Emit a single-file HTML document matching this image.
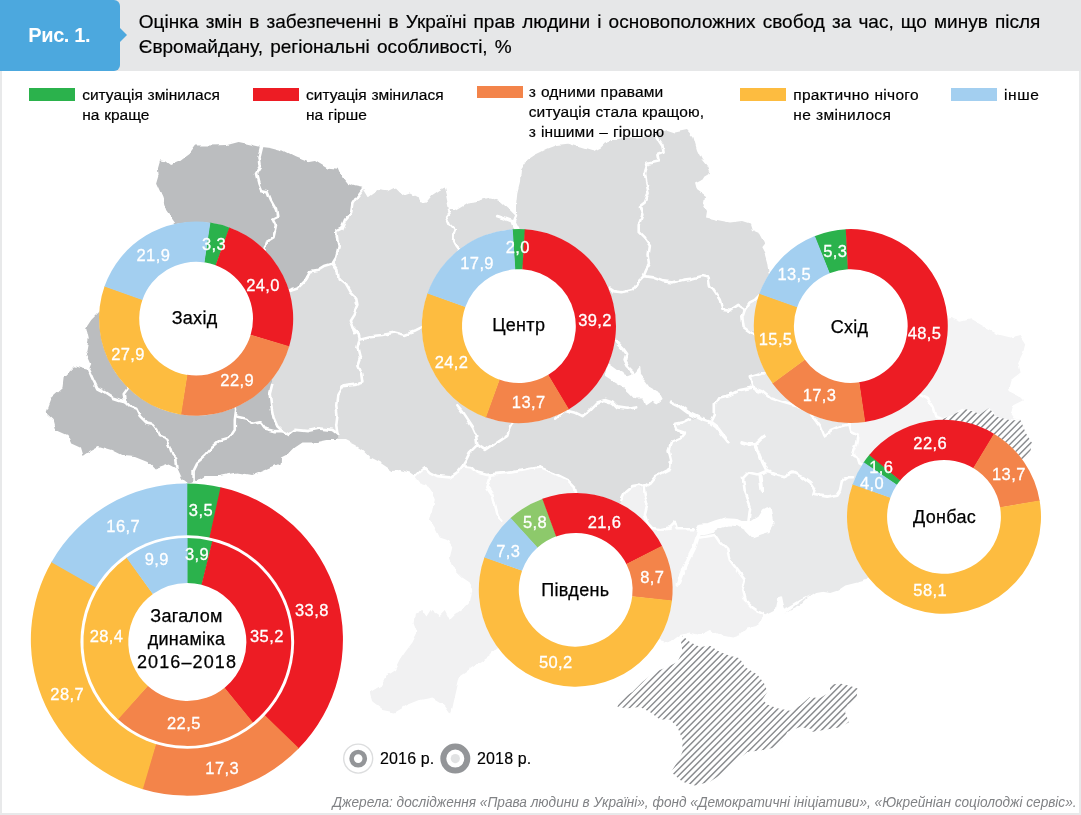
<!DOCTYPE html>
<html lang="uk"><head><meta charset="utf-8"><title>Рис. 1.</title>
<style>
html,body{margin:0;padding:0;background:#fff}
body{font-family:"Liberation Sans",sans-serif}
#page{position:relative;width:1081px;height:815px;overflow:hidden;background:#fff}
#frame{position:absolute;left:0;top:0;width:1081px;height:815px;box-sizing:border-box;border-left:2px solid #e8e9ea;border-right:2.2px solid #e8e9ea;border-bottom:2.5px solid #e8e9ea}
#hdr{position:absolute;left:0;top:0;width:1081px;height:70.5px;background:#e6e7e8}
#tag{position:absolute;left:0;top:0;width:120.3px;height:70.5px;background:#4ca8de;border-radius:0 6px 6px 0}
#tag:after{content:"";position:absolute;left:120px;top:27.5px;border-left:7.5px solid #4ca8de;border-top:7.5px solid transparent;border-bottom:7.5px solid transparent}
#tag span{position:absolute;left:28.3px;top:21.3px;font-weight:bold;font-size:20px;letter-spacing:-0.4px;line-height:28px;color:#fff;white-space:nowrap}
#title{position:absolute;left:138.8px;top:8.5px;font-size:19px;line-height:25.7px;letter-spacing:0px;word-spacing:1.9px;color:#000;-webkit-text-stroke:0.2px #000;white-space:nowrap}
.lg{position:absolute;font-size:15.5px;line-height:20px;letter-spacing:0px;word-spacing:0.5px;color:#000;-webkit-text-stroke:0.2px #000;white-space:nowrap}
.sw{position:absolute;width:46px;height:12.3px}
#foot{position:absolute;right:4.6px;top:794px;font-style:italic;font-size:15px;letter-spacing:0px;color:#808285;white-space:nowrap;line-height:16px;transform:scaleX(0.909);transform-origin:100% 50%}
svg text{font-family:"Liberation Sans",sans-serif}
svg text.n{font-size:16.5px;fill:#fff;stroke:#fff;stroke-width:0.3px;text-anchor:middle;letter-spacing:0.4px}
svg text.k{font-size:18px;fill:#000;stroke:#000;stroke-width:0.25px;text-anchor:middle;letter-spacing:0.3px}
svg text.yl{font-size:16px;fill:#000;stroke:#000;stroke-width:0.15px;letter-spacing:0.15px}
</style></head>
<body>
<div id="page">
<svg width="1081" height="815" viewBox="0 0 1081 815" style="position:absolute;left:0;top:0">
<defs>
<filter id="wig" x="0" y="0" width="1081" height="815" filterUnits="userSpaceOnUse"><feTurbulence type="fractalNoise" baseFrequency="0.09" numOctaves="2" seed="7" result="n"/><feDisplacementMap in="SourceGraphic" in2="n" scale="5" xChannelSelector="R" yChannelSelector="G"/></filter>
<clipPath id="cpD"><path d="M942.9,419.0 L965.4,409.0 L980.5,414.0 L989.2,407.7 L995.5,416.5 L1010.6,420.3 L1020.6,420.3 L1025.6,432.8 L1031.9,442.8 L1030.6,450.4 L1024.3,457.9 L950,520 L930,440Z"/></clipPath>
<clipPath id="cpC"><path d="M682.4,635.7 L689.9,642.0 L699.9,647.0 L709.9,645.7 L719.9,652.0 L729.8,655.7 L739.8,658.2 L744.8,666.9 L757.3,674.4 L764.8,684.4 L767.3,691.9 L762.3,699.4 L767.3,704.4 L777.3,708.2 L789.8,710.7 L799.8,705.7 L809.8,696.9 L819.8,698.2 L830.0,691.9 L830.1,684.7 L840.1,683.4 L850.1,686.0 L857.6,688.5 L856.4,699.7 L847.6,704.8 L845.1,712.3 L848.9,722.3 L840.1,727.3 L825.0,729.8 L810.0,732.3 L814.8,729.4 L799.8,726.9 L787.3,731.9 L782.3,741.9 L772.3,748.1 L759.8,750.6 L747.3,751.9 L734.8,761.9 L724.8,771.9 L709.9,781.8 L694.9,785.6 L682.4,781.8 L671.1,771.9 L677.4,761.9 L682.4,751.9 L682.4,739.4 L677.4,726.9 L669.9,719.4 L659.9,719.4 L649.9,711.9 L639.9,706.9 L627.4,708.2 L617.4,706.9 L619.9,699.4 L632.4,691.9 L642.4,681.9 L654.9,671.9 L667.4,666.9 L677.4,662.0 L682.4,652.0 L681.1,642.0Z"/></clipPath>
</defs>
<g id="map" filter="url(#wig)">
<path d="M414.9,476.1 L419.9,471.1 L424.9,467.4 L429.9,472.4 L437.3,476.1 L449.8,477.4 L457.3,472.4 L462.3,466.1 L472.3,467.4 L477.3,472.4 L487.3,474.9 L499.8,473.6 L512.3,472.4 L524.8,469.9 L540.0,467.4 L555.0,473.6 L567.5,479.9 L573.7,486.1 L575.0,492.3 L575,500 L600,540 L621.2,499.8 L624.9,492.3 L632.4,486.1 L639.9,484.8 L643.7,486.1 L644.9,494.8 L647.4,504.8 L644.9,514.8 L647.4,523.1 L652,528 L660,529.2 L669.3,527.4 L674.8,521.8 L676.7,529.2 L693.3,529.2 L699.9,537.5 L714.8,535.0 L719.8,542.5 L727.3,550.0 L729.8,560.0 L737.3,569.9 L744.8,579.9 L742.3,589.9 L744.8,599.9 L752.3,607.4 L759.8,612.4 L764.8,614.9 L757.3,624.9 L747.3,627.4 L739.8,634.9 L732.3,637.4 L719.8,634.9 L709.8,629.9 L699.9,634.9 L689.9,632.4 L679.9,634.9 L669.9,642.4 L657.4,639.9 L560,640 L497,647.5 L490,655 L475,665 L460,675 L453.6,702.4 L451.1,713.7 L444.9,704.9 L432.4,697.4 L419.9,699.9 L407.4,704.9 L394.9,712.4 L382.4,709.9 L372.4,702.4 L369.9,692.5 L369.9,692.3 L382.4,684.8 L387.4,674.8 L394.9,669.9 L399.9,659.9 L404.9,652.4 L412.4,642.4 L417.4,632.4 L413.6,622.4 L414.9,612.4 L422.4,609.9 L427.4,617.4 L432.3,609.9 L439.8,614.9 L444.8,609.9 L449.8,619.9 L454.8,614.9 L462.3,609.9 L469.8,602.4 L472.3,589.9 L469.8,582.4 L462.3,577.4 L454.8,569.9 L449.8,557.5 L452.3,547.5 L447.3,540.0 L439.8,537.5 L434.8,527.5 L429.9,520.0 L432.3,510.0 L432.3,509.8 L434.8,499.8 L432.3,492.3 L427.4,484.8 L419.9,482.3Z" fill="#f1f1f2"/>
<path d="M775,285 L754.8,299.8 L749.8,302.3 L744.8,309.8 L742.3,317.3 L743.6,327.3 L747.3,330 L800,330 L775,372 L762.3,372.4 L749.8,376.2 L752.3,387.4 L739.8,389.9 L729.8,394.9 L719.8,397.4 L714.8,404.9 L714.8,414.9 L712.3,419.9 L689.9,418.7 L682.4,422.4 L674.9,423.7 L677.4,429.9 L684.9,432.4 L679.9,438.6 L671.1,442.4 L668.6,449.9 L671.1,459.9 L669.9,468.6 L662.4,472.4 L654.9,476.1 L649.9,482.3 L643.7,486.1 L639.9,484.8 L644.9,494.8 L647.4,504.8 L644.9,514.8 L647.4,523.1 L652,528 L660,529.2 L669.3,527.4 L674.8,521.8 L676.7,529.2 L693.3,529.2 L699.9,537.5 L714.8,535.0 L719.8,542.5 L727.3,550.0 L729.8,560.0 L737.3,569.9 L744.8,579.9 L742.3,589.9 L744.8,599.9 L752.3,607.4 L759.8,612.4 L764.8,614.9 L774.8,609.9 L777.3,597.4 L781.0,596.2 L783.5,608.7 L787.3,607.4 L799.8,599.9 L810.0,594.9 L782.6,615.5 L790.1,610.5 L800.2,605.5 L807.7,598.0 L815.2,593.0 L822.7,591.7 L830.2,593.0 L837.8,590.5 L845.3,585.5 L855.3,583.0 L865.3,580.4 L900,540 L863.2,465.1 L859.5,463.3 L857.7,457.7 L852.1,454.0 L855.8,444.8 L857.7,435.5 L850.3,431.8 L848.4,424.4 L848.4,419.8 L850.3,415.2 L851,330 L860,280Z" fill="#e8e9ea"/>
<path d="M900,330 L950.4,318.0 L960.4,321.8 L970.4,319.3 L985.5,328.0 L995.5,333.1 L995.5,333.8 L1010.6,337.5 L1020.6,335.0 L1025.6,342.6 L1023.1,352.6 L1018.1,362.6 L1020.6,372.6 L1010.6,380.2 L1008.0,390.2 L1018.1,395.2 L1023.1,400.2 L1013.1,405.2 L1010.6,415.3 L1014.3,420.3 L1020.6,420.3 L1025.6,432.8 L1031.9,442.8 L1030.6,450.4 L1024.3,457.9 L950,520 L863.2,465.1 L859.5,463.3 L857.7,457.7 L852.1,454.0 L855.8,444.8 L857.7,435.5 L850.3,431.8 L848.4,424.4 L848.4,419.8 L850.3,415.2 L851,330Z" fill="#f3f3f4"/>
<path d="M363.7,187.9 L368.7,196.2 L377.4,189.9 L387.4,191.2 L394.9,187.4 L402.4,194.9 L409.9,192.4 L417.4,196.2 L419.9,203.7 L426.1,202.4 L432.3,194.9 L439.8,189.9 L444.8,187.4 L447.3,197.4 L449.8,209.9 L454.8,209.9 L467.3,202.4 L477.3,201.2 L489.8,197.4 L499.8,201.2 L509.8,209.9 L516.0,216.2 L516.0,204.9 L517.3,192.4 L519.8,182.5 L521.0,170.0 L527.3,160.0 L534.8,155.0 L540.0,152.5 L547.5,148.7 L557.5,145.0 L567.5,143.7 L580.0,147.5 L592.5,151.2 L599.9,147.5 L604.9,142.5 L612.4,140.0 L624.9,137.5 L639.9,137.5 L652.4,135.0 L659.9,132.5 L667.4,130.0 L675,132.5 L687,130 L693.5,137.5 L697,150 L702,160 L707,166 L710,173.7 L700,180 L695,182.4 L697,190 L705,196 L703.5,205 L707,211 L706,217.4 L717,220 L730,222.4 L742,221 L750,223.6 L752,230 L760,233.6 L765,242.4 L761,247.4 L765,255 L767,262 L768.5,272 L775,285 L754.8,299.8 L749.8,302.3 L744.8,309.8 L742.3,317.3 L743.6,327.3 L747.3,330 L800,330 L775,372 L762.3,372.4 L749.8,376.2 L752.3,387.4 L739.8,389.9 L729.8,394.9 L719.8,397.4 L714.8,404.9 L714.8,414.9 L712.3,419.9 L689.9,418.7 L682.4,422.4 L674.9,423.7 L677.4,429.9 L684.9,432.4 L679.9,438.6 L671.1,442.4 L668.6,449.9 L671.1,459.9 L669.9,468.6 L662.4,472.4 L654.9,476.1 L649.9,482.3 L643.7,486.1 L639.9,484.8 L632.4,486.1 L624.9,492.3 L621.2,499.8 L600,540 L575,500 L575.0,492.3 L573.7,486.1 L567.5,479.9 L555.0,473.6 L540.0,467.4 L524.8,469.9 L512.3,472.4 L499.8,473.6 L487.3,474.9 L477.3,472.4 L472.3,467.4 L462.3,466.1 L457.3,472.4 L449.8,477.4 L437.3,476.1 L429.9,472.4 L424.9,467.4 L419.9,471.1 L414.9,476.1 L409.9,472.4 L399.9,469.9 L392.4,471.1 L387.4,467.4 L379.9,462.4 L369.9,457.4 L362.4,449.9 L354.9,444.9 L344.9,439.9 L337.4,439.9 L337.4,433.6 L332.4,429.9 L320.0,428.6 L307.5,431.1 L295.0,429.9 L290.0,433.6 L289.8,434.9 L282.3,431.1 L277.3,426.2 L273.5,417.4 L271.0,404.9 L269.8,394.9 L272.3,384.9 L290.0,289.9 L297.5,287.4 L305.0,279.9 L310.0,271.1 L317.5,269.9 L323.7,266.1 L332.4,263.6 L332.4,263.6 L336.2,257.4 L338.7,247.4 L337.4,239.9 L336.2,231.2 L341.2,228.7 L344.9,219.9 L351.2,212.4 L352.4,203.7 L357.4,196.2Z" fill="#dcddde"/>
<path d="M179.9,229.9 L166.1,209.9 L162.4,197.4 L156.1,183.7 L158.6,175.0 L157.9,167.5 L159.9,160.5 L166.1,161.2 L171.1,165.0 L179.9,161.2 L189.9,153.7 L196.1,145.5 L209.8,145.5 L227.3,145.0 L238.6,142.0 L247.3,143.7 L261.0,147.0 L269.8,148.0 L282.3,151.2 L282.5,150.0 L295.0,156.2 L307.5,161.2 L315.0,160.0 L327.4,167.5 L338.7,168.7 L342.4,177.5 L347.4,183.7 L354.9,186.2 L363.7,187.9 L357.4,196.2 L352.4,203.7 L351.2,212.4 L344.9,219.9 L341.2,228.7 L336.2,231.2 L337.4,239.9 L338.7,247.4 L336.2,257.4 L332.4,263.6 L323.7,266.1 L317.5,269.9 L310.0,271.1 L305.0,279.9 L297.5,287.4 L290.0,289.9 L272.3,384.9 L269.8,394.9 L271.0,404.9 L273.5,417.4 L277.3,426.2 L282.3,431.1 L289.8,434.9 L290.0,433.6 L295.0,429.9 L307.5,431.1 L320.0,428.6 L332.4,429.9 L337.4,433.6 L337.4,439.9 L327.4,439.9 L315.0,442.4 L302.5,442.4 L295.0,447.4 L290.0,452.4 L280.0,457.4 L279.8,463.6 L264.8,469.9 L252.3,474.9 L237.3,472.4 L219.8,476.1 L204.8,476.1 L194.8,482.3 L187.4,483.6 L181.1,478.6 L176.1,467.4 L168.6,463.6 L154.9,468.6 L147.4,461.1 L134.9,456.1 L122.4,454.9 L112.4,449.9 L98.7,446.1 L91.2,449.9 L82.5,456.1 L80.0,447.4 L71.2,443.6 L67.5,434.9 L56.2,429.9 L53.7,419.9 L45.5,412.4 L51.2,397.4 L62.5,387.4 L63.7,377.4 L75.0,366.2 L83.7,368.7 L88.7,370.0 L91.2,363.7 L86.2,352.5 L88.7,338.7 L86.2,327.5 L91.2,320.0Z" fill="#bbbdbf"/>
<path d="M942.9,419.0 L965.4,409.0 L980.5,414.0 L989.2,407.7 L995.5,416.5 L1010.6,420.3 L1020.6,420.3 L1025.6,432.8 L1031.9,442.8 L1030.6,450.4 L1024.3,457.9 L950,520 L930,440Z" fill="#fff"/>
<path d="M489.8,474.9 L489.8,479.9 L487.3,487.3 L492.3,494.8 L494.8,504.8 L497.3,514.8 L502.3,519.8" fill="none" stroke="#fff" stroke-width="2.6" stroke-linejoin="round" stroke-linecap="round"/>
<path d="M643.7,486.1 L644.9,494.8 L647.4,504.8 L644.9,514.8 L647.4,523.1" fill="none" stroke="#fff" stroke-width="2.6" stroke-linejoin="round" stroke-linecap="round"/>
<path d="M699.9,537.5 L714.8,535.0 L719.8,542.5 L727.3,550.0 L729.8,560.0 L737.3,569.9 L744.8,579.9 L742.3,589.9 L744.8,599.9 L752.3,607.4 L759.8,612.4 L764.8,614.9" fill="none" stroke="#fff" stroke-width="2.6" stroke-linejoin="round" stroke-linecap="round"/>
<path d="M647.4,523 L652,528 L660,529.2 L669.3,527.4 L674.8,521.8 L676.7,529.2 L693.3,529.2" fill="none" stroke="#fff" stroke-width="2.6" stroke-linejoin="round" stroke-linecap="round"/>
<path d="M752.3,387.4 L759.8,392.4 L752.2,387.4 L761.5,391.1 L770.7,398.5 L781.8,402.2 L794.8,405.9 L809.6,411.5 L815.1,418.9 L820.7,426.3 L824.4,435.5 L831.8,430.0 L841.0,426.3 L848.4,424.4 L850.3,431.8 L857.7,435.5 L855.8,444.8 L852.1,454.0 L857.7,457.7 L859.5,463.3 L863.2,465.1" fill="none" stroke="#fff" stroke-width="2.6" stroke-linejoin="round" stroke-linecap="round"/>
<path d="M848.4,424.4 L848.4,419.8 L850.3,415.2" fill="none" stroke="#fff" stroke-width="2.6" stroke-linejoin="round" stroke-linecap="round"/>
<path d="M743.0,478.1 L748.5,472.5 L757.8,474.4 L767.0,470.7 L776.3,474.4 L785.5,476.2 L792.9,472.5 L804.0,478.1 L811.4,483.6 L815.1,489.2 L813.3,494.7 L826.2,496.6 L837.3,494.7 L841.0,489.2 L842.9,479.9 L848.4,476.2 L853.0,476.2" fill="none" stroke="#fff" stroke-width="2.6" stroke-linejoin="round" stroke-linecap="round"/>
<path d="M743.0,478.1 L744.8,491.0 L750.4,505.8 L748.5,520.6 L750.4,530.0" fill="none" stroke="#fff" stroke-width="2.6" stroke-linejoin="round" stroke-linecap="round"/>
<path d="M920.3,395.2 L927.8,399.0 L932.8,407.7 L935.3,416.5 L942.9,419.0" fill="none" stroke="#fff" stroke-width="2.6" stroke-linejoin="round" stroke-linecap="round"/>
<path d="M363.7,187.9 L357.4,196.2 L352.4,203.7 L351.2,212.4 L344.9,219.9 L341.2,228.7 L336.2,231.2 L337.4,239.9 L338.7,247.4 L336.2,257.4 L332.4,263.6" fill="none" stroke="#fff" stroke-width="2.6" stroke-linejoin="round" stroke-linecap="round"/>
<path d="M332.4,263.6 L323.7,266.1 L317.5,269.9 L310.0,271.1 L305.0,279.9 L297.5,287.4 L290.0,289.9" fill="none" stroke="#fff" stroke-width="2.6" stroke-linejoin="round" stroke-linecap="round"/>
<path d="M272.3,384.9 L269.8,394.9 L271.0,404.9 L273.5,417.4 L277.3,426.2 L282.3,431.1 L289.8,434.9" fill="none" stroke="#fff" stroke-width="2.6" stroke-linejoin="round" stroke-linecap="round"/>
<path d="M290.0,433.6 L295.0,429.9 L307.5,431.1 L320.0,428.6 L332.4,429.9 L337.4,433.6" fill="none" stroke="#fff" stroke-width="2.6" stroke-linejoin="round" stroke-linecap="round"/>
<path d="M332.4,263.6 L337.4,269.9 L338.7,278.6 L344.9,283.6 L349.9,292.3 L356.2,298.6 L357.4,304.8 L353.7,313.6 L349.9,319.8 L352.4,327.3 L354.9,333.1 L352.4,327.5 L358.7,333.7 L359.9,338.7" fill="none" stroke="#fff" stroke-width="2.6" stroke-linejoin="round" stroke-linecap="round"/>
<path d="M359.9,338.7 L357.4,347.5 L359.9,357.5 L357.4,365.0 L361.2,373.7 L362.4,382.4 L354.9,384.9 L342.4,386.2 L337.4,394.9 L336.2,404.9 L337.4,414.9 L336.2,424.9 L337.4,433.6" fill="none" stroke="#fff" stroke-width="2.6" stroke-linejoin="round" stroke-linecap="round"/>
<path d="M359.9,338.7 L369.9,336.2 L382.4,335.0 L394.9,332.5 L404.9,335.0 L414.9,331.2 L422.4,327.5 L426.1,322.5" fill="none" stroke="#fff" stroke-width="2.6" stroke-linejoin="round" stroke-linecap="round"/>
<path d="M449.8,211.2 L446.1,216.2 L449.8,224.9 L454.8,229.9 L452.3,237.4 L456.1,244.9 L459.8,249.9" fill="none" stroke="#fff" stroke-width="2.6" stroke-linejoin="round" stroke-linecap="round"/>
<path d="M516.0,216.2 L513.5,222.4 L517.3,229.9" fill="none" stroke="#fff" stroke-width="2.6" stroke-linejoin="round" stroke-linecap="round"/>
<path d="M657.4,137.5 L662.4,145.0 L663.6,152.5 L657.4,155.0 L658.6,161.2 L647.4,163.7 L644.9,172.5 L646.2,182.5 L648.6,192.4 L644.9,202.4 L639.9,206.2 L642.4,214.9 L638.7,224.9 L638.7,231.2 L644.9,237.4 L649.9,244.9 L648.6,253.6 L649.9,263.6 L646.2,269.9 L643.7,276.1" fill="none" stroke="#fff" stroke-width="2.6" stroke-linejoin="round" stroke-linecap="round"/>
<path d="M643.7,276.1 L637.4,282.4 L632.4,289.9 L622.4,292.3 L613.7,291.1 L609.9,288.6" fill="none" stroke="#fff" stroke-width="2.6" stroke-linejoin="round" stroke-linecap="round"/>
<path d="M643.7,276.1 L652.4,277.4 L662.4,281.1 L672.4,282.4 L682.4,279.9 L692.4,278.6 L702.3,276.1 L708.6,277.4 L709.8,284.9 L714.8,292.3 L719.8,299.8 L722.3,308.6 L729.8,309.8 L737.3,304.8 L744.8,309.8" fill="none" stroke="#fff" stroke-width="2.6" stroke-linejoin="round" stroke-linecap="round"/>
<path d="M744.8,309.8 L749.8,302.3 L754.8,299.8 L759.8,294.8" fill="none" stroke="#fff" stroke-width="2.6" stroke-linejoin="round" stroke-linecap="round"/>
<path d="M744.8,309.8 L742.3,317.3 L743.6,327.3 L747.3,330.0 L754.8,335.0" fill="none" stroke="#fff" stroke-width="2.6" stroke-linejoin="round" stroke-linecap="round"/>
<path d="M775,372 L762.3,372.4 L749.8,376.2 L752.3,387.4" fill="none" stroke="#fff" stroke-width="2.6" stroke-linejoin="round" stroke-linecap="round"/>
<path d="M752.3,387.4 L739.8,389.9 L729.8,394.9 L719.8,397.4 L714.8,404.9 L714.8,414.9 L712.3,419.9" fill="none" stroke="#fff" stroke-width="2.6" stroke-linejoin="round" stroke-linecap="round"/>
<path d="M457.3,406.2 L462.3,412.4 L467.3,419.9 L472.3,427.4 L476.1,436.1 L477.3,444.9" fill="none" stroke="#fff" stroke-width="2.6" stroke-linejoin="round" stroke-linecap="round"/>
<path d="M477.3,444.9 L469.8,452.4 L466.1,459.9 L462.3,466.1" fill="none" stroke="#fff" stroke-width="2.6" stroke-linejoin="round" stroke-linecap="round"/>
<path d="M477.3,444.9 L484.8,449.9 L492.3,444.9 L499.8,439.9 L507.3,434.9 L509.8,427.4 L513.5,422.4" fill="none" stroke="#fff" stroke-width="2.6" stroke-linejoin="round" stroke-linecap="round"/>
<path d="M555.0,418.7 L565.0,409.9 L575.0,412.4 L582.5,416.2 L590.0,409.9 L597.4,402.4 L604.9,399.9 L612.4,402.4 L617.4,407.4 L627.4,408.7 L636.2,407.4" fill="none" stroke="#fff" stroke-width="2.6" stroke-linejoin="round" stroke-linecap="round"/>
<path d="M689.9,418.7 L682.4,422.4 L674.9,423.7 L677.4,429.9 L684.9,432.4 L679.9,438.6 L671.1,442.4 L668.6,449.9 L671.1,459.9 L669.9,468.6 L662.4,472.4 L654.9,476.1 L649.9,482.3 L643.7,486.1 L639.9,484.8" fill="none" stroke="#fff" stroke-width="2.6" stroke-linejoin="round" stroke-linecap="round"/>
<path d="M639.9,484.8 L632.4,486.1 L624.9,492.3 L621.2,499.8" fill="none" stroke="#fff" stroke-width="2.6" stroke-linejoin="round" stroke-linecap="round"/>
<path d="M575.0,492.3 L573.7,486.1 L567.5,479.9 L555.0,473.6 L540.0,467.4 L524.8,469.9 L512.3,472.4 L499.8,473.6 L487.3,474.9 L477.3,472.4 L472.3,467.4 L462.3,466.1" fill="none" stroke="#fff" stroke-width="2.6" stroke-linejoin="round" stroke-linecap="round"/>
<path d="M462.3,466.1 L457.3,472.4 L449.8,477.4 L437.3,476.1 L429.9,472.4 L424.9,467.4 L419.9,471.1 L414.9,476.1" fill="none" stroke="#fff" stroke-width="2.6" stroke-linejoin="round" stroke-linecap="round"/>
<path d="M261.0,147.0 L258.5,157.5 L259.8,167.5 L256.0,173.7 L258.5,183.7 L261.0,189.9 L267.3,191.2 L271.0,199.9 L276.0,208.7 L277.3,216.2 L272.3,218.7 L276.0,226.2 L273.5,237.4 L267.3,241.1 L264.8,248.6 L262.3,259.9" fill="none" stroke="#fff" stroke-width="2.6" stroke-linejoin="round" stroke-linecap="round"/>
<path d="M88.7,370.0 L93.7,381.2 L97.4,388.7 L104.9,392.4 L112.4,397.4 L119.9,399.9 L124.9,401.2 L129.9,406.2 L136.2,408.7 L139.9,416.2 L146.1,422.4 L152.4,423.7 L157.4,429.9 L159.9,436.1 L166.1,438.6 L169.9,447.4 L172.4,454.9 L176.1,458.6 L177.4,467.4" fill="none" stroke="#fff" stroke-width="2.6" stroke-linejoin="round" stroke-linecap="round"/>
<path d="M124.9,401.2 L123.7,394.9 L127.4,389.9 L129.9,382.4" fill="none" stroke="#fff" stroke-width="2.6" stroke-linejoin="round" stroke-linecap="round"/>
<path d="M193.6,482.3 L193.6,469.9 L197.3,462.4 L204.8,456.1 L212.3,447.4 L221.1,439.9 L229.8,437.4 L234.8,429.9 L234.8,419.9 L236.1,409.9 L234.8,402.4" fill="none" stroke="#fff" stroke-width="2.6" stroke-linejoin="round" stroke-linecap="round"/>
<path d="M236.1,416.2 L247.3,418.7 L252.3,423.7 L259.8,422.4 L264.8,428.6 L274.8,431.1 L282.3,431.1" fill="none" stroke="#fff" stroke-width="2.6" stroke-linejoin="round" stroke-linecap="round"/>
<path d="M615.9,341.1 L622.9,348.5 L627.0,354.1 L624.8,360.5 L627.9,367.0 L634.4,373.5" fill="none" stroke="#fff" stroke-width="3" stroke-linejoin="round" stroke-linecap="round"/><path d="M671.4,402.2 L679.7,406.2 L687.1,411.8 L694.5,415.5 L701.9,419.2 L709.3,421.6 L716.7,427.1 L723.2,435.5 L727.3,440.6" fill="none" stroke="#fff" stroke-width="3.6" stroke-linejoin="round" stroke-linecap="round"/><path d="M497.4,216.2 L504.9,218.7 L511.9,221.2 L514.4,227.9" fill="none" stroke="#fff" stroke-width="3" stroke-linejoin="round" stroke-linecap="round"/><path d="M742.0,442.9 L748.5,444.8 L755.9,444.8 L759.6,454.0 L763.3,463.3 L767.0,470.7" fill="none" stroke="#fff" stroke-width="3.6" stroke-linejoin="round" stroke-linecap="round"/><path d="M755.9,444.8 L761.5,439.2 L765.2,437.0" fill="none" stroke="#fff" stroke-width="3.6" stroke-linejoin="round" stroke-linecap="round"/><path d="M759.6,476.2 L760.5,483.6 L761.5,491.0" fill="none" stroke="#fff" stroke-width="4" stroke-linejoin="round" stroke-linecap="round"/><path d="M698.9,532.9 L694.2,547.7 L686.8,562.5 L681.3,575.5 L677.6,584.7" fill="none" stroke="#fff" stroke-width="4.2" stroke-linejoin="round" stroke-linecap="round"/>
<path d="M607.6,364.2 L617.8,371.6 L627.9,376.3 L635.3,373.5 L639.6,367.9 L640.3,375.3 L645.5,381.8 L651.1,389.2 L658.8,393.3 L661.8,398.8 L657.5,402.5 L652.0,399.9 L645.5,404.4 L643.3,398.8 L636.3,398.8 L629.8,392.0 L622.4,385.5 L613.1,380.0 L605.7,375.3Z" fill="#fff" stroke="#fff" stroke-width="1.5" stroke-linejoin="round"/>
<path d="M771.0,509.8 L773.8,523.7 L769.2,531.1 L759.9,533.8 L752.5,536.6 L747.0,531.1 L737.7,525.5 L730.3,524.6 L721.1,527.4 L713.7,532.0 L706.3,533.8 L699.8,534.8 L696.1,531.1 L699.8,524.6 L708.1,523.7 L715.5,520.9 L724.8,518.1 L734.0,518.5 L741.4,521.8 L750.7,521.8 L758.1,517.2 L762.7,509.8 L766.4,507.9Z" fill="#fff" stroke="#fff" stroke-width="1.5" stroke-linejoin="round"/>
</g>
<g id="hatch">
<path clip-path="url(#cpD)" d="M930.0,407.2L1031.9,305.3M930.0,413.7L1031.9,311.8M930.0,420.2L1031.9,318.3M930.0,426.7L1031.9,324.8M930.0,433.2L1031.9,331.3M930.0,439.7L1031.9,337.8M930.0,446.2L1031.9,344.3M930.0,452.7L1031.9,350.8M930.0,459.2L1031.9,357.3M930.0,465.7L1031.9,363.8M930.0,472.2L1031.9,370.3M930.0,478.7L1031.9,376.8M930.0,485.2L1031.9,383.3M930.0,491.7L1031.9,389.8M930.0,498.2L1031.9,396.3M930.0,504.7L1031.9,402.8M930.0,511.2L1031.9,409.3M930.0,517.7L1031.9,415.8M930.0,524.2L1031.9,422.3M930.0,530.7L1031.9,428.8M930.0,537.2L1031.9,435.3M930.0,543.7L1031.9,441.8M930.0,550.2L1031.9,448.3M930.0,556.7L1031.9,454.8M930.0,563.2L1031.9,461.3M930.0,569.7L1031.9,467.8M930.0,576.2L1031.9,474.3M930.0,582.7L1031.9,480.8M930.0,589.2L1031.9,487.3M930.0,595.7L1031.9,493.8M930.0,602.2L1031.9,500.3M930.0,608.7L1031.9,506.8M930.0,615.2L1031.9,513.3M930.0,621.7L1031.9,519.8M930.0,628.2L1031.9,526.3" stroke="#8b8d90" stroke-width="1.5" fill="none"/>
<path clip-path="url(#cpC)" d="M617.4,635.3L857.6,395.1M617.4,641.8L857.6,401.6M617.4,648.3L857.6,408.1M617.4,654.8L857.6,414.6M617.4,661.3L857.6,421.1M617.4,667.8L857.6,427.6M617.4,674.3L857.6,434.1M617.4,680.8L857.6,440.6M617.4,687.3L857.6,447.1M617.4,693.8L857.6,453.6M617.4,700.3L857.6,460.1M617.4,706.8L857.6,466.6M617.4,713.3L857.6,473.1M617.4,719.8L857.6,479.6M617.4,726.3L857.6,486.1M617.4,732.8L857.6,492.6M617.4,739.3L857.6,499.1M617.4,745.8L857.6,505.6M617.4,752.3L857.6,512.1M617.4,758.8L857.6,518.6M617.4,765.3L857.6,525.1M617.4,771.8L857.6,531.6M617.4,778.3L857.6,538.1M617.4,784.8L857.6,544.6M617.4,791.3L857.6,551.1M617.4,797.8L857.6,557.6M617.4,804.3L857.6,564.1M617.4,810.8L857.6,570.6M617.4,817.3L857.6,577.1M617.4,823.8L857.6,583.6M617.4,830.3L857.6,590.1M617.4,836.8L857.6,596.6M617.4,843.3L857.6,603.1M617.4,849.8L857.6,609.6M617.4,856.3L857.6,616.1M617.4,862.8L857.6,622.6M617.4,869.3L857.6,629.1M617.4,875.8L857.6,635.6M617.4,882.3L857.6,642.1M617.4,888.8L857.6,648.6M617.4,895.3L857.6,655.1M617.4,901.8L857.6,661.6M617.4,908.3L857.6,668.1M617.4,914.8L857.6,674.6M617.4,921.3L857.6,681.1M617.4,927.8L857.6,687.6M617.4,934.3L857.6,694.1M617.4,940.8L857.6,700.6M617.4,947.3L857.6,707.1M617.4,953.8L857.6,713.6M617.4,960.3L857.6,720.1M617.4,966.8L857.6,726.6M617.4,973.3L857.6,733.1M617.4,979.8L857.6,739.6M617.4,986.3L857.6,746.1M617.4,992.8L857.6,752.6M617.4,999.3L857.6,759.1M617.4,1005.8L857.6,765.6M617.4,1012.3L857.6,772.1M617.4,1018.8L857.6,778.6M617.4,1025.3L857.6,785.1M617.4,1031.8L857.6,791.6" stroke="#8b8d90" stroke-width="1.5" fill="none"/>
</g>
<g id="donuts">
<circle cx="196.1" cy="318.7" r="96.8" fill="#fff"/>
<path d="M209.87,222.58 A97.1,97.1 0 0 1 229.84,227.65 L215.87,265.34 A56.9,56.9 0 0 0 204.17,262.37Z" fill="#2bb24c"/>
<path d="M229.36,227.47 A97.1,97.1 0 0 1 289.09,346.65 L250.59,335.08 A56.9,56.9 0 0 0 215.59,265.24Z" fill="#ed1c24"/>
<path d="M289.24,346.16 A97.1,97.1 0 0 1 180.63,414.56 L187.03,374.87 A56.9,56.9 0 0 0 250.68,334.79Z" fill="#f3844a"/>
<path d="M181.13,414.64 A97.1,97.1 0 0 1 104.63,286.11 L142.50,299.60 A56.9,56.9 0 0 0 187.33,374.92Z" fill="#fdbc40"/>
<path d="M104.46,286.59 A97.1,97.1 0 0 1 210.37,222.65 L204.46,262.42 A56.9,56.9 0 0 0 142.40,299.88Z" fill="#a3cff0"/>
<circle cx="518.9" cy="326.1" r="96.8" fill="#fff"/>
<path d="M512.21,229.23 A97.1,97.1 0 0 1 525.29,229.21 L522.64,269.32 A56.9,56.9 0 0 0 514.98,269.34Z" fill="#2bb24c"/>
<path d="M524.78,229.18 A97.1,97.1 0 0 1 568.54,409.55 L547.99,375.00 A56.9,56.9 0 0 0 522.35,269.30Z" fill="#ed1c24"/>
<path d="M568.97,409.29 A97.1,97.1 0 0 1 485.53,417.28 L499.34,379.53 A56.9,56.9 0 0 0 548.24,374.85Z" fill="#f3844a"/>
<path d="M486.00,417.46 A97.1,97.1 0 0 1 427.61,293.02 L465.40,306.72 A56.9,56.9 0 0 0 499.62,379.64Z" fill="#fdbc40"/>
<path d="M427.44,293.50 A97.1,97.1 0 0 1 512.72,229.20 L515.28,269.32 A56.9,56.9 0 0 0 465.30,307.00Z" fill="#a3cff0"/>
<circle cx="850.8" cy="326.05" r="96.7" fill="#fff"/>
<path d="M814.38,236.14 A97.0,97.0 0 0 1 846.25,229.16 L848.13,269.21 A56.9,56.9 0 0 0 829.44,273.31Z" fill="#2bb24c"/>
<path d="M845.74,229.18 A97.0,97.0 0 0 1 864.74,422.04 L858.98,382.36 A56.9,56.9 0 0 0 847.83,269.23Z" fill="#ed1c24"/>
<path d="M865.24,421.97 A97.0,97.0 0 0 1 772.37,383.13 L804.79,359.53 A56.9,56.9 0 0 0 859.27,382.32Z" fill="#f3844a"/>
<path d="M772.67,383.54 A97.0,97.0 0 0 1 759.48,293.35 L797.23,306.87 A56.9,56.9 0 0 0 804.97,359.77Z" fill="#fdbc40"/>
<path d="M759.31,293.83 A97.0,97.0 0 0 1 814.86,235.96 L829.72,273.20 A56.9,56.9 0 0 0 797.13,307.15Z" fill="#a3cff0"/>
<circle cx="944.0" cy="516.8" r="96.7" fill="#fff"/>
<path d="M863.44,462.77 A97.0,97.0 0 0 1 869.60,454.57 L900.35,480.29 A56.9,56.9 0 0 0 896.74,485.11Z" fill="#2bb24c"/>
<path d="M869.27,454.96 A97.0,97.0 0 0 1 994.35,433.89 L973.54,468.17 A56.9,56.9 0 0 0 900.16,480.52Z" fill="#ed1c24"/>
<path d="M993.92,433.63 A97.0,97.0 0 0 1 1039.69,500.94 L1000.13,507.50 A56.9,56.9 0 0 0 973.28,468.01Z" fill="#f3844a"/>
<path d="M1039.61,500.44 A97.0,97.0 0 1 1 852.71,484.02 L890.45,497.57 A56.9,56.9 0 1 0 1000.08,507.20Z" fill="#fdbc40"/>
<path d="M852.54,484.50 A97.0,97.0 0 0 1 863.73,462.35 L896.91,484.86 A56.9,56.9 0 0 0 890.35,497.85Z" fill="#a3cff0"/>
<circle cx="575.7" cy="589.8" r="96.60000000000001" fill="#fff"/>
<path d="M510.30,518.30 A96.9,96.9 0 0 1 542.81,498.65 L556.39,536.28 A56.9,56.9 0 0 0 537.30,547.82Z" fill="#8dc96b"/>
<path d="M542.33,498.83 A96.9,96.9 0 0 1 662.22,546.16 L626.50,564.18 A56.9,56.9 0 0 0 556.11,536.38Z" fill="#ed1c24"/>
<path d="M661.99,545.71 A96.9,96.9 0 0 1 671.94,601.10 L632.21,596.43 A56.9,56.9 0 0 0 626.37,563.91Z" fill="#f3844a"/>
<path d="M672.00,600.59 A96.9,96.9 0 1 1 484.51,557.02 L522.15,570.55 A56.9,56.9 0 1 0 632.25,596.14Z" fill="#fdbc40"/>
<path d="M484.34,557.50 A96.9,96.9 0 0 1 510.67,517.96 L537.52,547.61 A56.9,56.9 0 0 0 522.05,570.83Z" fill="#a3cff0"/>
<circle cx="186.9" cy="639.6" r="155.75" fill="#fff"/>
<path d="M186.49,483.55 A156.05,156.05 0 0 1 221.34,487.40 L208.97,542.07 A100,100 0 0 0 186.64,539.60Z" fill="#2bb24c"/>
<path d="M220.54,487.22 A156.05,156.05 0 0 1 298.34,748.84 L258.31,709.60 A100,100 0 0 0 208.46,541.95Z" fill="#ed1c24"/>
<path d="M298.91,748.26 A156.05,156.05 0 0 1 142.03,789.06 L158.15,735.38 A100,100 0 0 0 258.68,709.23Z" fill="#f3844a"/>
<path d="M142.81,789.29 A156.05,156.05 0 0 1 51.80,561.50 L100.32,589.55 A100,100 0 0 0 158.65,735.53Z" fill="#fdbc40"/>
<path d="M51.39,562.21 A156.05,156.05 0 0 1 187.31,483.55 L187.16,539.60 A100,100 0 0 0 100.06,590.01Z" fill="#a3cff0"/>
<circle cx="187.3" cy="642.0" r="106.85" fill="#fff"/>
<circle cx="187.3" cy="642.0" r="103.60000000000001" fill="#fff"/>
<path d="M187.03,538.10 A103.9,103.9 0 0 1 212.79,541.28 L201.79,584.76 A59.05,59.05 0 0 0 187.15,582.95Z" fill="#2bb24c"/>
<path d="M212.27,541.14 A103.9,103.9 0 0 1 252.61,722.80 L224.42,687.92 A59.05,59.05 0 0 0 201.49,584.68Z" fill="#ed1c24"/>
<path d="M253.04,722.46 A103.9,103.9 0 0 1 117.60,719.05 L147.69,685.79 A59.05,59.05 0 0 0 224.66,687.73Z" fill="#f3844a"/>
<path d="M118.00,719.42 A103.9,103.9 0 0 1 126.93,557.44 L152.99,593.94 A59.05,59.05 0 0 0 147.92,686.00Z" fill="#fdbc40"/>
<path d="M126.49,557.76 A103.9,103.9 0 0 1 187.57,538.10 L187.45,582.95 A59.05,59.05 0 0 0 152.74,594.12Z" fill="#a3cff0"/>
</g>
<g id="labels">
<text x="214" y="250.2" class="n">3,3</text>
<text x="263" y="291" class="n">24,0</text>
<text x="237.2" y="385.5" class="n">22,9</text>
<text x="128" y="359.8" class="n">27,9</text>
<text x="153.4" y="261.4" class="n">21,9</text>
<text x="194.6" y="324" class="k">Захід</text>
<text x="517.8" y="252.6" class="n">2,0</text>
<text x="595" y="325.6" class="n">39,2</text>
<text x="528.7" y="408.1" class="n">13,7</text>
<text x="451.5" y="367.5" class="n">24,2</text>
<text x="477.1" y="268.8" class="n">17,9</text>
<text x="518.7" y="331.3" class="k">Центр</text>
<text x="835.3" y="257.4" class="n">5,3</text>
<text x="924.5" y="338.5" class="n">48,5</text>
<text x="819.5" y="400.6" class="n">17,3</text>
<text x="775.6" y="344.8" class="n">15,5</text>
<text x="794.3" y="279.5" class="n">13,5</text>
<text x="849.5" y="332.9" class="k">Схід</text>
<text x="930.2" y="448.8" class="n">22,6</text>
<text x="1008.9" y="480.1" class="n">13,7</text>
<text x="930.2" y="596.4" class="n">58,1</text>
<text x="872" y="488.5" class="n">4,0</text>
<text x="881.2" y="472.7" class="n">1,6</text>
<text x="944.5" y="523.1" class="k">Донбас</text>
<text x="535" y="527.5" class="n">5,8</text>
<text x="604.5" y="527.5" class="n">21,6</text>
<text x="652.3" y="582.5" class="n">8,7</text>
<text x="555.8" y="668.4" class="n">50,2</text>
<text x="508.3" y="556.7" class="n">7,3</text>
<text x="575.3" y="596.1" class="k">Південь</text>
<text x="200.9" y="516.4" class="n">3,5</text>
<text x="197.1" y="559.8" class="n">3,9</text>
<text x="311.9" y="616.1" class="n">33,8</text>
<text x="266.9" y="642.2" class="n">35,2</text>
<text x="123.2" y="532.1" class="n">16,7</text>
<text x="156.8" y="565.2" class="n">9,9</text>
<text x="106.5" y="642.2" class="n">28,4</text>
<text x="67.2" y="699.5" class="n">28,7</text>
<text x="183.9" y="729.1" class="n">22,5</text>
<text x="222.2" y="773.5" class="n">17,3</text>
<text x="186.5" y="621.8" class="k">Загалом</text>
<text x="186.5" y="644.8" class="k">динаміка</text>
<text x="187" y="667.5" class="k" style="letter-spacing:1.1px">2016–2018</text>
</g>
<g id="yearlegend">
<circle cx="358.2" cy="758.6" r="14.5" fill="#fff" stroke="#dcddde" stroke-width="1.4"/>
<circle cx="358.2" cy="758.6" r="6.6" fill="#fff" stroke="#939598" stroke-width="4.6"/>
<circle cx="455.3" cy="758.6" r="12" fill="#fff" stroke="#939598" stroke-width="6"/>
<circle cx="455.3" cy="758.6" r="4.6" fill="#e1e2e3"/>
<text x="380" y="763.5" class="yl">2016 р.</text>
<text x="477" y="763.5" class="yl">2018 р.</text>
</g>
</svg>
<div id="frame"></div>
<div id="hdr"><div id="tag"><span>Рис. 1.</span></div>
<div id="title">Оцінка змін в забезпеченні в Україні прав людини і основоположних свобод за час, що минув після<br>Євромайдану, регіональні особливості, %</div></div>
<div class="sw" style="left:29px;top:88.3px;background:#2bb24c"></div>
<div class="lg" style="left:82.2px;top:84.5px">ситуація змінилася<br>на краще</div>
<div class="sw" style="left:253.3px;top:88.3px;background:#ed1c24"></div>
<div class="lg" style="left:306px;top:84.5px">ситуація змінилася<br>на гірше</div>
<div class="sw" style="left:477px;top:85.5px;background:#f3844a"></div>
<div class="lg" style="left:528.7px;top:82px;letter-spacing:0.15px">з одними правами<br>ситуація стала кращою,<br>з іншими – гіршою</div>
<div class="sw" style="left:740px;top:88.3px;background:#fdbc40"></div>
<div class="lg" style="left:793.3px;top:84.5px;letter-spacing:0.28px">практично нічого<br>не змінилося</div>
<div class="sw" style="left:951px;top:88.3px;background:#a3cff0"></div>
<div class="lg" style="left:1004px;top:84.5px;letter-spacing:0.6px">інше</div>
<div id="foot">Джерела: дослідження «Права людини в Україні», фонд «Демократичні ініціативи», «Юкрейніан соціолоджі сервіс».</div>
</div>
</body></html>
